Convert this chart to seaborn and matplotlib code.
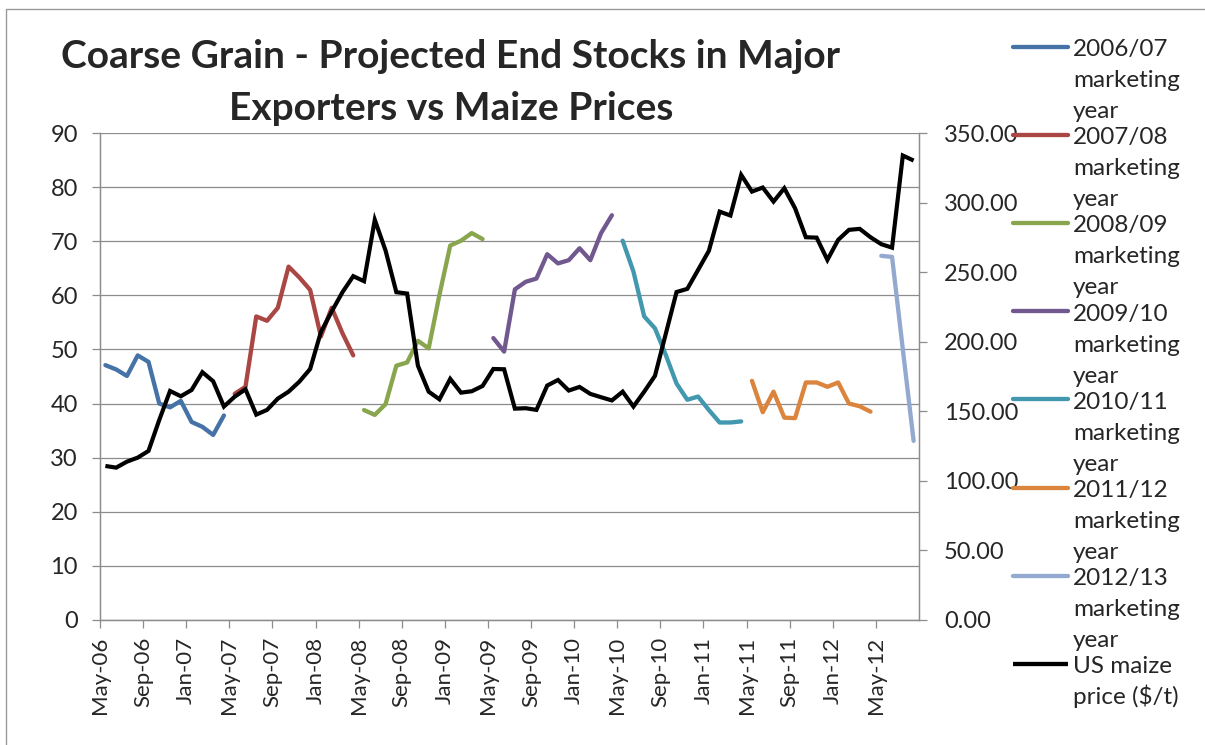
import numpy as np
import pandas as pd
import matplotlib.pyplot as plt
import seaborn as sns
from matplotlib.lines import Line2D
from matplotlib.patches import Rectangle

# Monthly axis: May-06 .. Aug-12
months = pd.date_range("2006-05-01", periods=76, freq="MS")
tick_labels = list(months[::4].strftime("%b-%y"))

# Projected end stocks (left axis), one list per marketing year
season_labels = ["2006/07 marketing year", "2007/08 marketing year",
                 "2008/09 marketing year", "2009/10 marketing year",
                 "2010/11 marketing year", "2011/12 marketing year",
                 "2012/13 marketing year"]
season_first_month = [0, 12, 24, 36, 48, 60, 72]
stocks_2006_07 = [47.1, 46.3, 45.1, 48.9, 47.7, 40.0, 39.3, 40.5, 36.6, 35.7, 34.2, 37.8]
stocks_2007_08 = [41.8, 43.1, 56.1, 55.3, 57.7, 65.3, 63.3, 61.0, 52.4, 57.7, 53.0, 48.9]
stocks_2008_09 = [38.8, 37.9, 39.9, 47.0, 47.6, 51.6, 50.2, 60.1, 69.2, 70.1, 71.5, 70.4]
stocks_2009_10 = [52.1, 49.6, 61.1, 62.5, 63.1, 67.6, 65.9, 66.5, 68.7, 66.5, 71.5, 74.8]
stocks_2010_11 = [70.1, 64.4, 56.1, 53.9, 49.0, 43.7, 40.7, 41.3, 38.8, 36.5, 36.5, 36.7]
stocks_2011_12 = [44.2, 38.4, 42.2, 37.4, 37.3, 43.9, 43.9, 43.1, 43.9, 40.0, 39.5, 38.5]
stocks_2012_13 = [67.3, 67.1, 50.0, 33.1]
season_values = [stocks_2006_07, stocks_2007_08, stocks_2008_09, stocks_2009_10,
                 stocks_2010_11, stocks_2011_12, stocks_2012_13]

# US maize price, $/t (right axis)
price_label = "US maize price ($/t)"
maize_price = [110.7, 109.5, 113.8, 116.7, 121.5, 143.8, 164.6, 160.8, 165.3, 178.1,
               171.6, 153.4, 160.5, 165.8, 147.6, 151.0, 159.1, 164.1, 171.3, 180.4,
               207.0, 221.7, 235.6, 247.1, 243.5, 287.6, 265.5, 235.6, 234.6, 182.8,
               164.1, 158.6, 173.3, 163.4, 164.4, 168.2, 180.4, 180.2, 151.9, 152.2,
               151.0, 168.5, 172.5, 164.9, 167.5, 162.5, 160.1, 157.8, 164.1, 153.4,
               164.1, 175.5, 205.6, 235.7, 238.0, 251.6, 265.3, 293.5, 290.7, 319.9,
               307.9, 310.8, 300.7, 310.3, 295.9, 275.1, 274.8, 258.8, 273.2, 280.4,
               281.1, 275.1, 270.1, 267.6, 333.8, 330.2]

season_colors = ["#4572A7", "#AA4643", "#89A54E", "#71588F", "#4198AF", "#DB843D", "#93A9CF"]
grid_grey = "#8C8C8C"

# long-form frames for seaborn
rows = []
for label, start, vals in zip(season_labels, season_first_month, season_values):
    for k, v in enumerate(vals):
        rows.append({"x": start + k + 0.5, "stocks": v, "season": label})
stocks_df = pd.DataFrame(rows)
price_df = pd.DataFrame({"x": np.arange(len(maize_price)) + 0.5, "price": maize_price})

sns.set_style("white")
plt.rcParams["font.family"] = ["Lato", "DejaVu Sans"]

fig = plt.figure(figsize=(12.05, 7.45), dpi=100)
ax = fig.add_axes([100 / 1205, 125 / 745, 819 / 1205, 487 / 745])

sns.lineplot(data=stocks_df, x="x", y="stocks", hue="season", hue_order=season_labels,
             palette=season_colors, linewidth=3.1, estimator=None, legend=False, ax=ax,
             solid_capstyle="round", solid_joinstyle="round")

ax2 = ax.twinx()
sns.lineplot(data=price_df, x="x", y="price", color="black", linewidth=3.0,
             estimator=None, ax=ax2, solid_capstyle="butt", solid_joinstyle="miter")

# left axis
ax.set_xlim(0, 76)
ax.set_ylim(0, 90)
ax.set_yticks(range(0, 91, 10))
ax.yaxis.grid(True, color=grid_grey, linewidth=0.9)
ax.set_xticks(range(0, 76, 4))
ax.set_xticklabels(tick_labels, rotation=90)
ax.set_xlabel("")
ax.set_ylabel("")
ax.tick_params(axis="y", direction="out", length=6, width=0.9, color=grid_grey,
               pad=10, labelsize=17, left=True)
ax.tick_params(axis="x", direction="out", length=6, width=0.9, color=grid_grey,
               pad=6, labelsize=16, bottom=True)

# right axis
ax2.set_ylim(0, 350)
ax2.set_yticks(range(0, 351, 50))
ax2.set_yticklabels([f"{v:.2f}" for v in range(0, 351, 50)])
ax2.set_ylabel("")
ax2.tick_params(axis="y", direction="out", length=6, width=0.9, color=grid_grey,
                pad=12, labelsize=17, right=True)

for a in (ax, ax2):
    for side in ("left", "right", "bottom"):
        a.spines[side].set_color(grid_grey)
        a.spines[side].set_linewidth(0.9)
    a.spines["top"].set_visible(False)

# title (two lines, centred over the chart area)
fig.text(451 / 1205, 1 - 68 / 745, "Coarse Grain - Projected End Stocks in Major",
         ha="center", va="baseline", fontsize=28, fontweight="bold")
fig.text(451 / 1205, 1 - 120 / 745, "Exporters vs Maize Prices",
         ha="center", va="baseline", fontsize=28, fontweight="bold")

# legend in Excel style: wrapped labels, key aligned with first line
handles = list(ax.get_lines()[:len(season_labels)]) + [ax2.get_lines()[0]]
labels = season_labels + [price_label]
for i, (h, lab) in enumerate(zip(handles, labels)):
    y0 = 46.5 + 88.2 * i
    fig.add_artist(Line2D([1013 / 1205, 1068 / 1205], [1 - y0 / 745] * 2,
                          transform=fig.transFigure, color=h.get_color(),
                          linewidth=3.1, solid_capstyle=h.get_solid_capstyle()))
    words = lab.split(" ")
    parts = [words[0], words[1], " ".join(words[2:])] if i < 7 else ["US maize", "price ($/t)"]
    for j, part in enumerate(parts):
        fig.text(1073 / 1205, 1 - (y0 + 9.5 + 31 * j) / 745, part,
                 ha="left", va="baseline", fontsize=17.5)

# outer chart border
fig.add_artist(Rectangle((6 / 1205, -0.05), 1.2, 1.05 - 9 / 745, transform=fig.transFigure,
                         fill=False, edgecolor="#9A9A9A", linewidth=1.0))

fig.savefig("out.png", dpi=100)
